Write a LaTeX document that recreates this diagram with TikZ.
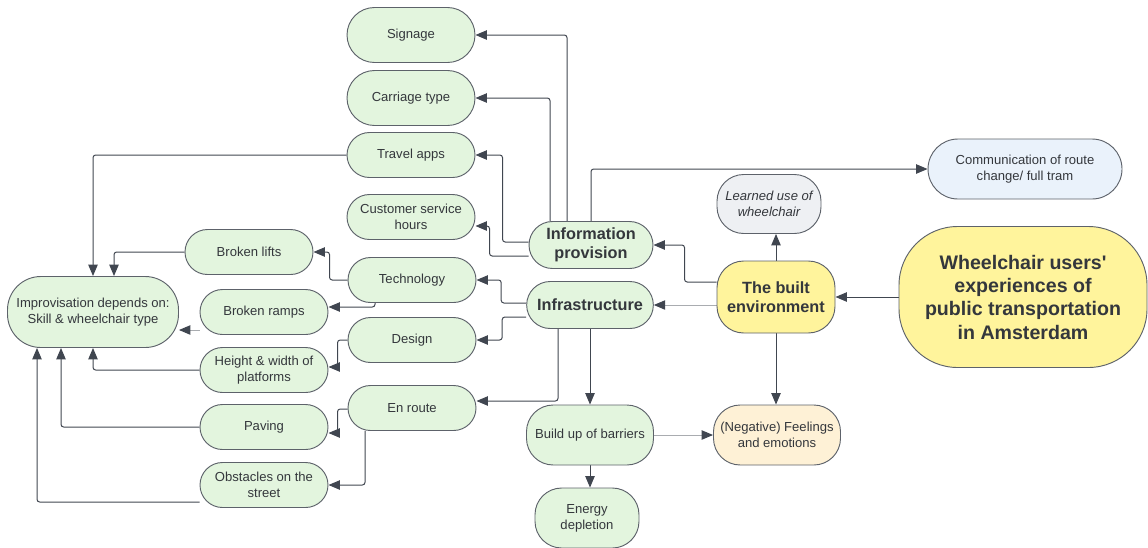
\documentclass[tikz,border=0pt]{standalone}
\usepackage{fontspec}
\setmainfont{Liberation Sans}[Ligatures=TeXOff]
\usepackage{tikz}
\usetikzlibrary{arrows.meta,backgrounds,shapes.misc}

\definecolor{boxgreen}{RGB}{227,245,222}
\definecolor{boxyellow}{RGB}{255,244,156}
\definecolor{boxpeach}{RGB}{254,241,214}
\definecolor{boxblue}{RGB}{234,242,251}
\definecolor{boxgrey}{RGB}{238,240,243}
\definecolor{linegrey}{RGB}{64,70,80}
\definecolor{textgrey}{RGB}{52,55,60}

\begin{document}
\begin{tikzpicture}[
      x=0.75pt, y=-0.75pt,
      mybox/.style={
         draw=linegrey!85,
         fill=boxgreen,
         rounded corners=20pt,
         line width=0.7pt,
         text=textgrey,
         align=center,
         inner sep=0pt,
         minimum width=96pt,
         minimum height=33.75pt,
         font=\fontsize{9.8}{12}\selectfont},
      mypill/.style={mybox, rounded rectangle, rounded corners=0pt},
      mytitle/.style={mypill,
         font=\fontsize{12.2}{14.6}\selectfont\bfseries},
      myarrow/.style={-{Triangle[length=8.5pt,width=7pt]},
         draw=linegrey, line width=0.75pt, rounded corners=2pt},
      mylight/.style={draw=linegrey!45,
         -{Triangle[length=8.5pt,width=7pt,color=linegrey]}}
      ]
      \useasboundingbox (0,0) rectangle (1148,547);

      % information provision branch
      \node[mypill,minimum height=41.25pt] (signage) at (411,35) {Signage};
      \node[mypill,minimum height=41.25pt] (carriage) at (411,98) {Carriage type};
      \node[mypill] (apps) at (411,155) {Travel apps};
      \node[mypill] (service) at (411,217) {Customer service\\hours};
      \node[mytitle,minimum width=93pt,minimum height=35.25pt] (info) at (591,245) {Information\\provision};

      % infrastructure branch
      \node[mypill] (technology) at (412,280) {Technology};
      \node[mypill] (design) at (412,340) {Design};
      \node[mypill] (enroute) at (412,408) {En route};
      \node[mytitle,minimum width=95pt,minimum height=35.25pt] (infra) at (590,305) {Infrastructure};
      \node[mybox,minimum width=95.25pt,minimum height=45pt] (barriers) at (590,435) {Build up of barriers};
      \node[mybox,minimum width=78pt,minimum height=45pt] (energy) at (587,518) {Energy\\depletion};

      \node[mybox,fill=boxyellow,minimum width=88.5pt,minimum height=54pt,
            font=\fontsize{12.2}{14.6}\selectfont\bfseries] (built) at (776,297) {The built\\environment};
      \node[mybox,fill=boxpeach,minimum width=95.25pt,minimum height=45pt] (feelings) at (777,435) {(Negative) Feelings\\and emotions};
      \node[mybox,fill=boxgrey,minimum width=78pt,minimum height=44.25pt,
            font=\fontsize{9.8}{12}\selectfont\itshape] (learned) at (769,204) {Learned use of\\wheelchair};
      \node[mypill,fill=boxblue,minimum width=145.5pt,minimum height=45pt] (route) at (1025,169) {Communication of route\\change/ full tram};
      \node[mybox,fill=boxyellow,minimum width=186pt,minimum height=105.75pt,rounded corners=44pt,
            font=\fontsize{14.7}{17.5}\selectfont\bfseries] (main) at (1023,297) {Wheelchair users'\\experiences of\\public transportation\\in Amsterdam};

      % left column
      \node[mybox,minimum width=128.25pt,minimum height=53.25pt,rounded corners=25pt] (improv) at (93,312) {Improvisation depends on:\\Skill \& wheelchair type};
      \node[mypill] (lifts) at (249,252) {Broken lifts};
      \node[mypill] (ramps) at (264,312) {Broken ramps};
      \node[mypill] (platforms) at (264,370) {Height \& width of\\platforms};
      \node[mypill] (paving) at (264,427) {Paving};
      \node[mypill] (obstacles) at (264,485) {Obstacles on the\\street};

    \begin{scope}[on background layer]
      \draw[myarrow] (main.west) -- (built.east);
      \draw[myarrow] (built.north) -- (built.north |- learned.south);
      \draw[myarrow] (built.south) -- (built.south |- feelings.north);
      \draw[myarrow] ([yshift=11.25pt]built.west) -- ++(-32,0) |- (info.east);
      \draw[myarrow,mylight] (built.west |- infra.east) -- (infra.east);

      \draw[myarrow] (info.north) |- (route.west);
      \draw[myarrow] ([xshift=-18pt]info.north) |- (signage.east);
      \draw[myarrow] ([xshift=-30.75pt]info.north) |- (carriage.east);
      \draw[myarrow] ([yshift=2.25pt]info.west) -- ++(-26,0) |- (apps.east);
      \draw[myarrow] ([yshift=-8.25pt]info.west) -- ++(-39,0) |- ([yshift=-6.75pt]service.east);

      \draw[myarrow] ([yshift=1.5pt]infra.west) -- ++(-25,0) |- (technology.east);
      \draw[myarrow] ([yshift=-9pt]infra.west) -- ++(-24,0) |- (design.east);
      \draw[myarrow] ([xshift=-24pt]infra.south) |- ([yshift=5.25pt]enroute.east);
      \draw[myarrow] (infra.south) -- (barriers.north);
      \draw[myarrow] (barriers.south) -- (barriers.south |- energy.north);
      \draw[myarrow,mylight] (barriers.east) -- (feelings.west);

      \draw[myarrow] (technology.west) -- ++(-18,0) |- (lifts.east);
      \draw[myarrow] ([xshift=-27.75pt]technology.south) |- ([yshift=3.75pt]ramps.east);
      \draw[myarrow] (design.west) -- ++(-10,0) |- ([yshift=2.25pt]platforms.east);
      \draw[myarrow] ([yshift=-0.75pt]enroute.west) -- ++(-10,0) |- ([yshift=-4.5pt]paving.east);
      \draw[myarrow] ([xshift=-35.25pt]enroute.south) |- (obstacles.east);

      \draw[myarrow] (apps.west) -| (improv.north);
      \draw[myarrow] (lifts.west) -| ([xshift=15.75pt]improv.north);
      \draw[myarrow,mylight] ([yshift=-13.5pt]ramps.west) -- ([yshift=-13.5pt]improv.east);
      \draw[myarrow] (platforms.west) -| (improv.south);
      \draw[myarrow] (paving.west) -| ([xshift=-24pt]improv.south);
      \draw[myarrow] ([yshift=-12.75pt]obstacles.west) -| ([xshift=-42pt]improv.south);
    \end{scope}
\end{tikzpicture}
\end{document}
